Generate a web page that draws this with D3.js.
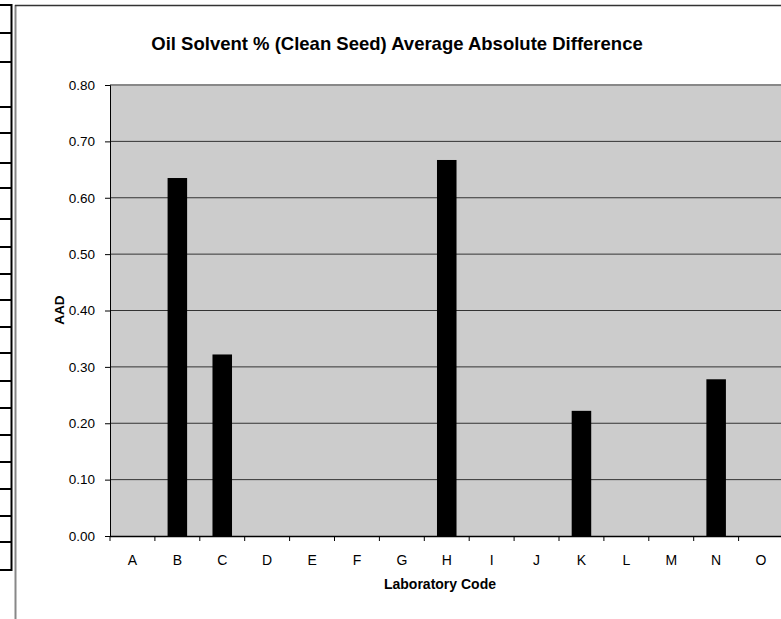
<!DOCTYPE html>
<html><head><meta charset="utf-8">
<script src="https://cdn.jsdelivr.net/npm/d3@7"></script>
<style>body{margin:0;background:#fff;}svg{display:block;font-family:"Liberation Sans",Arial,sans-serif;}</style>
</head><body>
<svg id="c" width="781" height="619"></svg>
<script>
const categories = ["A","B","C","D","E","F","G","H","I","J","K","L","M","N","O"];
const aadValues = [null,0.635,0.322,null,null,null,null,0.667,null,null,0.222,null,null,0.278,null];
const yTicks = [0,0.1,0.2,0.3,0.4,0.5,0.6,0.7,0.8];
const tableRows = [5,33,62,107,133,163,188,219,247,274,300,327,353,381,408,435,462,489,516,542,570];

const svg = d3.select("#c");
const m = {left:110, top:85, bottom:536, right:783.5};

// left table fragment
svg.append("g").selectAll("line").data(tableRows).join("line")
  .attr("x1",0).attr("x2",12).attr("y1",d=>d).attr("y2",d=>d)
  .attr("stroke","#000").attr("stroke-width",2);
svg.append("line").attr("x1",11.5).attr("x2",11.5).attr("y1",4).attr("y2",571)
  .attr("stroke","#000").attr("stroke-width",2);

// chart frame
svg.append("line").attr("x1",15.5).attr("x2",15.5).attr("y1",5).attr("y2",619)
  .attr("stroke","#888").attr("stroke-width",2);
svg.append("line").attr("x1",15).attr("x2",781).attr("y1",5.5).attr("y2",5.5)
  .attr("stroke","#333").attr("stroke-width",1.5);

const x = d3.scaleBand().domain(categories).range([m.left,m.right]).paddingInner(0.565).paddingOuter(0.2825);
const y = d3.scaleLinear().domain([0,0.8]).range([m.bottom,m.top]);

// plot background
svg.append("rect").attr("x",m.left).attr("y",m.top).attr("width",m.right-m.left).attr("height",m.bottom-m.top)
  .attr("fill","#cccccc");

// grid
svg.append("g").selectAll("line").data(yTicks.filter(d=>d>0 && d<0.8)).join("line")
  .attr("x1",m.left).attr("x2",m.right).attr("y1",d=>y(d)).attr("y2",d=>y(d))
  .attr("stroke","#333").attr("stroke-width",1);
svg.append("line").attr("x1",m.left).attr("x2",m.right).attr("y1",y(0.8)).attr("y2",y(0.8))
  .attr("stroke","#888").attr("stroke-width",2);

// bars
svg.append("g").selectAll("rect").data(categories.map((c,i)=>({c,v:aadValues[i]})).filter(d=>d.v!=null))
  .join("rect")
  .attr("x",d=>x(d.c)).attr("width",x.bandwidth())
  .attr("y",d=>y(d.v)).attr("height",d=>y(0)-y(d.v))
  .attr("fill","#000");

// y axis
const yAxis = d3.axisLeft(y).tickValues(yTicks).tickFormat(d3.format(".2f")).tickSize(5).tickPadding(10);
const gy = svg.append("g").attr("transform",`translate(${m.left},0)`).call(yAxis);
gy.select(".domain").attr("stroke","#000");
gy.selectAll("text").attr("font-size",13.5).attr("fill","#000").attr("font-family","Liberation Sans, Arial, sans-serif");

// x axis
const step = x.step();
const boundaries = d3.range(categories.length+1).map(i=>m.left+i*step);
svg.append("line").attr("x1",m.left).attr("x2",m.right).attr("y1",m.bottom+0.5).attr("y2",m.bottom+0.5)
  .attr("stroke","#000").attr("stroke-width",1.5);
svg.append("g").selectAll("line").data(boundaries).join("line")
  .attr("x1",d=>d).attr("x2",d=>d).attr("y1",m.bottom).attr("y2",m.bottom+5)
  .attr("stroke","#000");
svg.append("g").selectAll("text").data(categories).join("text")
  .attr("x",d=>x(d)+x.bandwidth()/2).attr("y",565)
  .attr("text-anchor","middle").attr("font-size",14).text(d=>d);

// titles
svg.append("text").attr("x",397).attr("y",50).attr("text-anchor","middle")
  .attr("font-size",18.5).attr("font-weight","bold").text("Oil Solvent % (Clean Seed) Average Absolute Difference");
svg.append("text").attr("x",440).attr("y",589).attr("text-anchor","middle")
  .attr("font-size",14).attr("font-weight","bold").text("Laboratory Code");
svg.append("text").attr("transform","translate(64,310) rotate(-90)").attr("text-anchor","middle")
  .attr("font-size",13.5).attr("font-weight","bold").text("AAD");
</script>
</body></html>
